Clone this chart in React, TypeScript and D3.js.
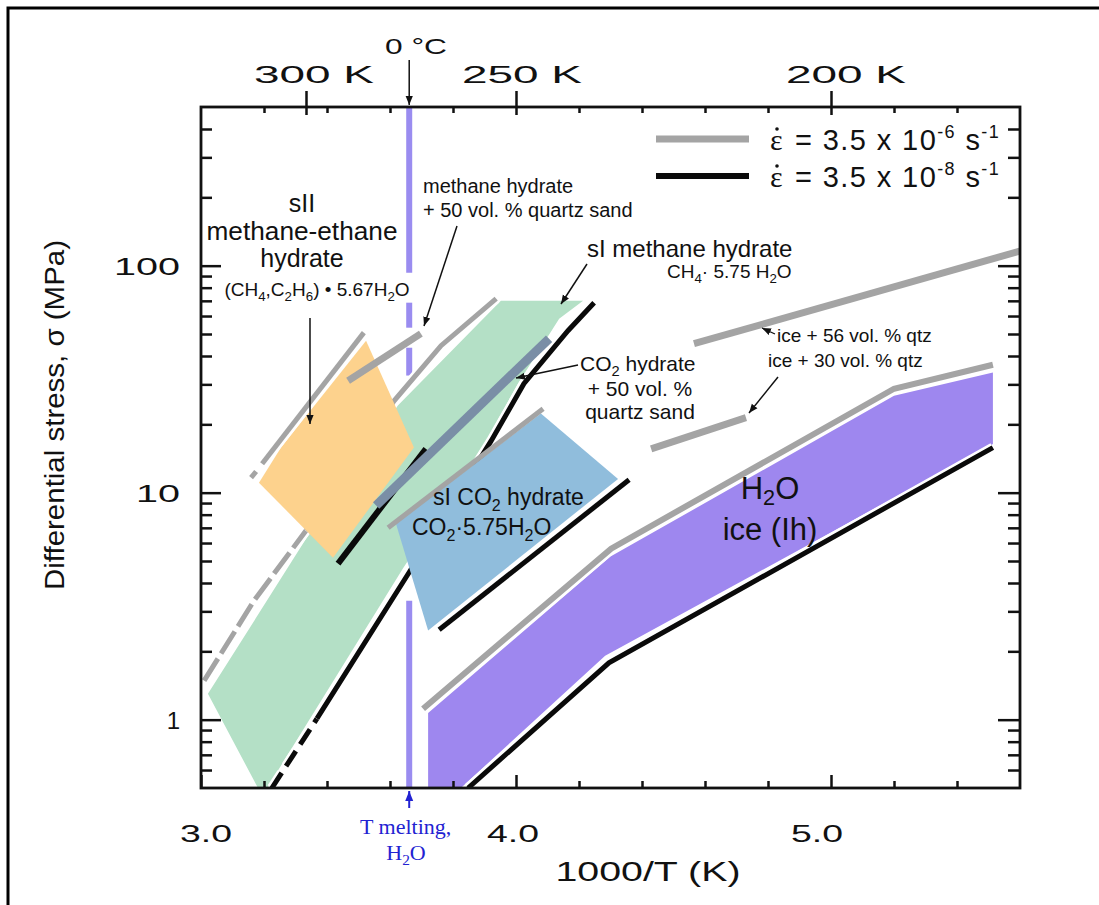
import React, { useEffect, useRef } from "react";
import * as d3 from "d3";

type Pt = [number, number];

// ---- axes ----
const xTicksMajor = [3.0, 4.0, 5.0];
const xTickLabels = ["3.0", "4.0", "5.0"];
const xTicksMinor = [3.2, 3.4, 3.6, 3.8, 4.2, 4.4, 4.6, 4.8, 5.2, 5.4];
const topTempsK = [300, 250, 200];
const topTempLabels = ["300 K", "250 K", "200 K"];
const yTicksMajor = [1, 10, 100];
const yTickLabels = ["1", "10", "100"];
const yTicksMinor = [0.6, 0.7, 0.8, 0.9, 2, 3, 4, 5, 6, 7, 8, 9, 20, 30, 40, 50, 60, 70, 80, 90, 200, 300, 400];

// ---- H2O ice (Ih) ----
const iceFill: Pt[] = [[3.721, 0.5], [3.721, 1.07], [4.30, 5.23], [5.20, 26.7], [5.514, 33.8], [5.514, 16.4], [4.283, 1.91], [3.825, 0.5]];
const iceFast: Pt[] = [[3.705, 1.118], [4.302, 5.67], [5.20, 28.7], [5.514, 36.6]];
const iceSlow: Pt[] = [[3.848, 0.5], [4.295, 1.78], [5.514, 15.8]];
const ice56qtz: Pt[] = [[4.565, 45.3], [5.60, 116]];
const ice30qtz: Pt[] = [[4.429, 15.6], [4.73, 21.4]];

// ---- sI CO2 hydrate ----
const co2Fill: Pt[] = [[4.079, 22.3], [4.324, 11.5], [3.721, 2.47], [3.619, 7.3]];
const co2Fast: Pt[] = [[3.594, 7.01], [4.086, 23.4]];
const co2Slow: Pt[] = [[3.756, 2.49], [4.359, 11.4]];
const co2Sand: Pt[] = [[3.556, 8.77], [4.105, 47.7]];

// ---- sI methane hydrate ----
const ch4Fill: Pt[] = [[3.022, 1.3], [3.181, 0.5], [3.21, 0.5], [3.641, 4.63], [3.902, 16.6], [4.006, 30.2], [4.137, 58.4], [4.213, 70.1], [3.952, 70.1], [3.625, 24.2], [3.34, 6.47]];
const ch4FastDashed: Pt[] = [[3.01, 1.485], [3.168, 3.34], [3.333, 6.8]];
const ch4Fast: Pt[] = [[3.333, 6.8], [3.613, 25.4], [3.762, 44.4], [3.937, 71.6]];
const ch4SlowDashed: Pt[] = [[3.225, 0.5], [3.368, 1.01]];
const ch4Slow: Pt[] = [[3.368, 1.01], [3.66, 4.44], [3.921, 16.9], [4.025, 30.2], [4.165, 51.7], [4.248, 68.7]];
const ch4Sand: Pt[] = [[3.467, 31.1], [3.698, 50.2]];

// ---- sII methane-ethane hydrate ----
const sIIFill: Pt[] = [[3.184, 11.07], [3.254, 15.8], [3.524, 46.7], [3.676, 15.8], [3.419, 5.17]];
const sIIFastA: Pt[] = [[3.159, 11.64], [3.175, 12.4]];
const sIIFastB: Pt[] = [[3.194, 13.4], [3.517, 50.7]];
const sIISlow: Pt[] = [[3.435, 4.87], [3.714, 15.6]];

// ---- H2O melting point ----
const meltX = 1000 / 273.15;
const meltSegments: Pt[] = [[0.5, 3.34], [32.8, 43.5], [53.3, 68.7], [93, 500]];

const GRAY = "#a4a4a4";
const BLACK = "#0a0a0a";
const BLUE_TXT = "#2222d2";
const FONT = "'Liberation Sans', Arial, Helvetica, sans-serif";
const SERIF = "'Liberation Serif', 'Times New Roman', serif";

const x = d3.scaleLinear().domain([3.0, 5.6]).range([201, 1020]);
const y = d3.scaleLog().domain([0.5, 500]).range([788, 107]);
const line = d3.line<Pt>().x(d => x(d[0])).y(d => y(d[1]));

// label nudges (the original labels sit a bit off their ticks)
const topLabelDx = [8, 6, 15];
const bottomLabelDx = [5, -3, -14];

// "_x" -> subscript x
function Rich({ s, sub = 0.7, shift = 6 }: { s: string; sub?: number; shift?: number }) {
  const parts: { t: string; sub: boolean }[] = [];
  let buf = "";
  for (let i = 0; i < s.length; i++) {
    if (s[i] === "_" && i + 1 < s.length) {
      if (buf) { parts.push({ t: buf, sub: false }); buf = ""; }
      parts.push({ t: s[i + 1], sub: true });
      i++;
    } else buf += s[i];
  }
  if (buf) parts.push({ t: buf, sub: false });
  let cur = 0;
  return (
    <>
      {parts.map((p, k) => {
        const target = p.sub ? shift : 0;
        const dy = target - cur;
        cur = target;
        return (
          <tspan key={k} dy={dy} fontSize={p.sub ? `${sub}em` : undefined}>{p.t}</tspan>
        );
      })}
    </>
  );
}

const Stroke = ({ pts, color, w, dash, halo = true }: { pts: Pt[]; color: string; w: number; dash?: string; halo?: boolean }) => (
  <g>
    {halo && <path d={line(pts) || ""} fill="none" stroke="#fff" strokeWidth={w + 5} strokeDasharray={dash} />}
    <path d={line(pts) || ""} fill="none" stroke={color} strokeWidth={w} strokeDasharray={dash} />
  </g>
);

const Area = ({ pts, color }: { pts: Pt[]; color: string }) => (
  <path d={(line(pts) || "") + "Z"} fill={color} stroke="none" />
);

// strain-rate legend row: epsilon with a dot over it
const Legend = ({ yy, exp }: { yy: number; exp: string }) => (
  <g fill="#111">
    <text x={770} y={yy} fontSize={30} fontFamily={SERIF}>ε</text>
    <circle cx={777} cy={yy - 21} r={1.8} />
    <text x={795} y={yy} fontSize={29} letterSpacing={1.4}>
      = 3.5 x 10<tspan dy={-12} fontSize={18}>{exp}</tspan><tspan dy={12}> s</tspan><tspan dy={-12} fontSize={18}>-1</tspan>
    </text>
  </g>
);

const App = () => {
  const axesRef = useRef<SVGGElement>(null);

  useEffect(() => {
    const g = d3.select(axesRef.current);
    g.selectAll("*").remove();
    const add = (axis: any, tr: string) => {
      const s = g.append("g").attr("transform", tr).call(axis);
      s.select(".domain").remove();
      s.selectAll("text").remove();
      s.selectAll("line").attr("stroke", "#111").attr("stroke-width", 2.5);
    };
    const topMajor = topTempsK.map(t => 1000 / t);
    add(d3.axisBottom(x).tickValues(xTicksMinor).tickSize(-7), "translate(0,788)");
    add(d3.axisBottom(x).tickValues(xTicksMajor).tickSize(-13), "translate(0,788)");
    add(d3.axisTop(x).tickValues(xTicksMinor).tickSize(-6), "translate(0,107)");
    add(d3.axisTop(x).tickValues(topMajor).tickSize(16), "translate(0,107)");
    add(d3.axisTop(x).tickValues(topMajor).tickSize(-8), "translate(0,107)");
    add(d3.axisLeft(y).tickValues(yTicksMinor).tickSize(-11), "translate(201,0)");
    add(d3.axisLeft(y).tickValues(yTicksMajor).tickSize(-20), "translate(201,0)");
    add(d3.axisRight(y).tickValues(yTicksMinor).tickSize(-12), "translate(1020,0)");
    add(d3.axisRight(y).tickValues(yTicksMajor).tickSize(-22), "translate(1020,0)");
    g.append("rect")
      .attr("x", 201).attr("y", 107)
      .attr("width", 819).attr("height", 681)
      .attr("fill", "none").attr("stroke", "#111").attr("stroke-width", 2.8);
  }, []);

  return (
    <svg width={1099} height={905} style={{ position: "absolute", left: 0, top: 0, background: "#fff" }} fontFamily={FONT}>
      <defs>
        <clipPath id="plot">
          <rect x={201} y={107} width={819} height={681} />
        </clipPath>
        <marker id="arr" viewBox="0 0 10 10" refX={10} refY={5} markerWidth={9} markerHeight={9} markerUnits="userSpaceOnUse" orient="auto">
          <path d="M0,1 L10,5 L0,9 Z" fill="#111" />
        </marker>
        <marker id="arrBlue" viewBox="0 0 10 10" refX={10} refY={5} markerWidth={10} markerHeight={10} markerUnits="userSpaceOnUse" orient="auto">
          <path d="M0,1 L10,5 L0,9 Z" fill={BLUE_TXT} />
        </marker>
      </defs>

      <rect x={8} y={8} width={1100} height={1000} fill="none" stroke="#000" strokeWidth={3} />

      <g clipPath="url(#plot)">
        {meltSegments.map((s, i) => (
          <line key={i} x1={x(meltX)} x2={x(meltX)} y1={y(s[0])} y2={y(s[1])} stroke="#9a8cf0" strokeWidth={6} />
        ))}

        <Area pts={ch4Fill} color="#b4e0c6" />
        <Stroke pts={ch4FastDashed} color={GRAY} w={5} dash="26 6" />
        <Stroke pts={ch4Fast} color={GRAY} w={5} />
        <Stroke pts={ch4SlowDashed} color={BLACK} w={5} dash="18 8" />
        <Stroke pts={ch4Slow} color={BLACK} w={5} />

        <Area pts={sIIFill} color="#fdd28d" />
        <Stroke pts={sIIFastA} color={GRAY} w={5} />
        <Stroke pts={sIIFastB} color={GRAY} w={5} />
        <Stroke pts={sIISlow} color={BLACK} w={6} halo={false} />
        <Stroke pts={ch4Sand} color={GRAY} w={7} halo={false} />

        <Area pts={co2Fill} color="#90bddc" />
        <Stroke pts={co2Fast} color={GRAY} w={5} halo={false} />
        <Stroke pts={co2Slow} color={BLACK} w={5} />
        <Stroke pts={co2Sand} color="#7a8ea6" w={9} halo={false} />

        <Area pts={iceFill} color="#9e87ef" />
        <Stroke pts={iceFast} color={GRAY} w={6} />
        <Stroke pts={iceSlow} color={BLACK} w={5} />
        <Stroke pts={ice56qtz} color={GRAY} w={7} halo={false} />
        <Stroke pts={ice30qtz} color={GRAY} w={7} halo={false} />
      </g>

      <g ref={axesRef} />

      {/* top temperature axis labels */}
      {topTempsK.map((t, i) => (
        <text key={t} x={x(1000 / t) + topLabelDx[i]} y={83} fontSize={24} textAnchor="middle" fill="#111"
          textLength={120} lengthAdjust="spacingAndGlyphs">{topTempLabels[i]}</text>
      ))}
      <text x={385} y={54} fontSize={22} fill="#111" textLength={62} lengthAdjust="spacingAndGlyphs">0 °C</text>
      <line x1={x(meltX)} x2={x(meltX)} y1={60} y2={105} stroke="#111" strokeWidth={1.5} markerEnd="url(#arr)" />

      {/* bottom axis */}
      {xTicksMajor.map((v, i) => (
        <text key={v} x={x(v) + bottomLabelDx[i]} y={842} fontSize={24} textAnchor="middle" fill="#111"
          textLength={52} lengthAdjust="spacingAndGlyphs">{xTickLabels[i]}</text>
      ))}
      <text x={648} y={881} fontSize={27} textAnchor="middle" fill="#111" textLength={185} lengthAdjust="spacingAndGlyphs">1000/T (K)</text>

      {/* left axis */}
      {yTicksMajor.map((v, i) => (
        <text key={v} x={180} y={y(v) + 9} fontSize={24} textAnchor="end" fill="#111"
          textLength={yTickLabels[i].length > 1 ? 22 * yTickLabels[i].length : undefined}
          lengthAdjust="spacingAndGlyphs">{yTickLabels[i]}</text>
      ))}
      <text transform="translate(64,415) rotate(-90)" fontSize={27} textAnchor="middle" fill="#111"
        textLength={350} lengthAdjust="spacingAndGlyphs">Differential stress, σ (MPa)</text>

      {/* melting marker */}
      <line x1={x(meltX)} x2={x(meltX)} y1={808} y2={791} stroke={BLUE_TXT} strokeWidth={2} markerEnd="url(#arrBlue)" />
      <text x={360} y={834} fontSize={22} fill={BLUE_TXT} fontFamily={SERIF}>T melting,</text>
      <text x={406} y={860} fontSize={22} fill={BLUE_TXT} fontFamily={SERIF} textAnchor="middle"><Rich s="H_2O" shift={5} /></text>

      {/* legend */}
      <line x1={656} x2={749} y1={139} y2={139} stroke={GRAY} strokeWidth={7} />
      <line x1={656} x2={749} y1={176} y2={176} stroke={BLACK} strokeWidth={6} />
      <Legend yy={150} exp="-6" />
      <Legend yy={187} exp="-8" />

      {/* sII label */}
      <g fill="#111" textAnchor="middle">
        <text x={302} y={212} fontSize={25}>sII</text>
        <text x={302} y={240} fontSize={25} textLength={191} lengthAdjust="spacingAndGlyphs">methane-ethane</text>
        <text x={302} y={267} fontSize={25}>hydrate</text>
        <text x={317} y={296} fontSize={19}><Rich s="(CH_4,C_2H_6) • 5.67H_2O" shift={5} /></text>
      </g>
      <line x1={310} x2={310} y1={318} y2={424} stroke="#111" strokeWidth={1.5} markerEnd="url(#arr)" />

      {/* methane + sand */}
      <text x={423} y={193} fontSize={20} fill="#111">methane hydrate</text>
      <text x={423} y={217} fontSize={20} fill="#111">+ 50 vol. % quartz sand</text>
      <line x1={457} x2={424} y1={226} y2={326} stroke="#111" strokeWidth={1.5} markerEnd="url(#arr)" />

      {/* sI methane */}
      <text x={587} y={257} fontSize={24} fill="#111">sI methane hydrate</text>
      <text x={667} y={278} fontSize={19} fill="#111"><Rich s="CH_4· 5.75 H_2O" shift={5} /></text>
      <line x1={587} x2={561} y1={264} y2={304} stroke="#111" strokeWidth={1.5} markerEnd="url(#arr)" />

      {/* CO2 + sand */}
      <text x={580} y={371} fontSize={21} fill="#111"><Rich s="CO_2 hydrate" shift={5} /></text>
      <text x={640} y={396} fontSize={21} fill="#111" textAnchor="middle">+ 50 vol. %</text>
      <text x={640} y={419} fontSize={21} fill="#111" textAnchor="middle">quartz sand</text>
      <line x1={578} x2={516} y1={365} y2={378} stroke="#111" strokeWidth={1.5} markerEnd="url(#arr)" />

      {/* sI CO2 */}
      <text x={433} y={505} fontSize={23} fill="#111"><Rich s="sI CO_2 hydrate" shift={6} /></text>
      <text x={412} y={535} fontSize={23} fill="#111"><Rich s="CO_2·5.75H_2O" shift={6} /></text>

      {/* ice + qtz */}
      <text x={777} y={342} fontSize={19} fill="#111">ice + 56 vol. % qtz</text>
      <line x1={775} x2={762} y1={334} y2={328} stroke="#111" strokeWidth={1.2} markerEnd="url(#arr)" />
      <text x={768} y={367} fontSize={19} fill="#111">ice + 30 vol. % qtz</text>
      <line x1={778} x2={749} y1={377} y2={413} stroke="#111" strokeWidth={1.5} markerEnd="url(#arr)" />

      {/* H2O ice */}
      <text x={770} y={499} fontSize={31} fill="#111" textAnchor="middle"><Rich s="H_2O" shift={6} /></text>
      <text x={770} y={540} fontSize={31} fill="#111" textAnchor="middle">ice (Ih)</text>
    </svg>
  );
};

export default App;
